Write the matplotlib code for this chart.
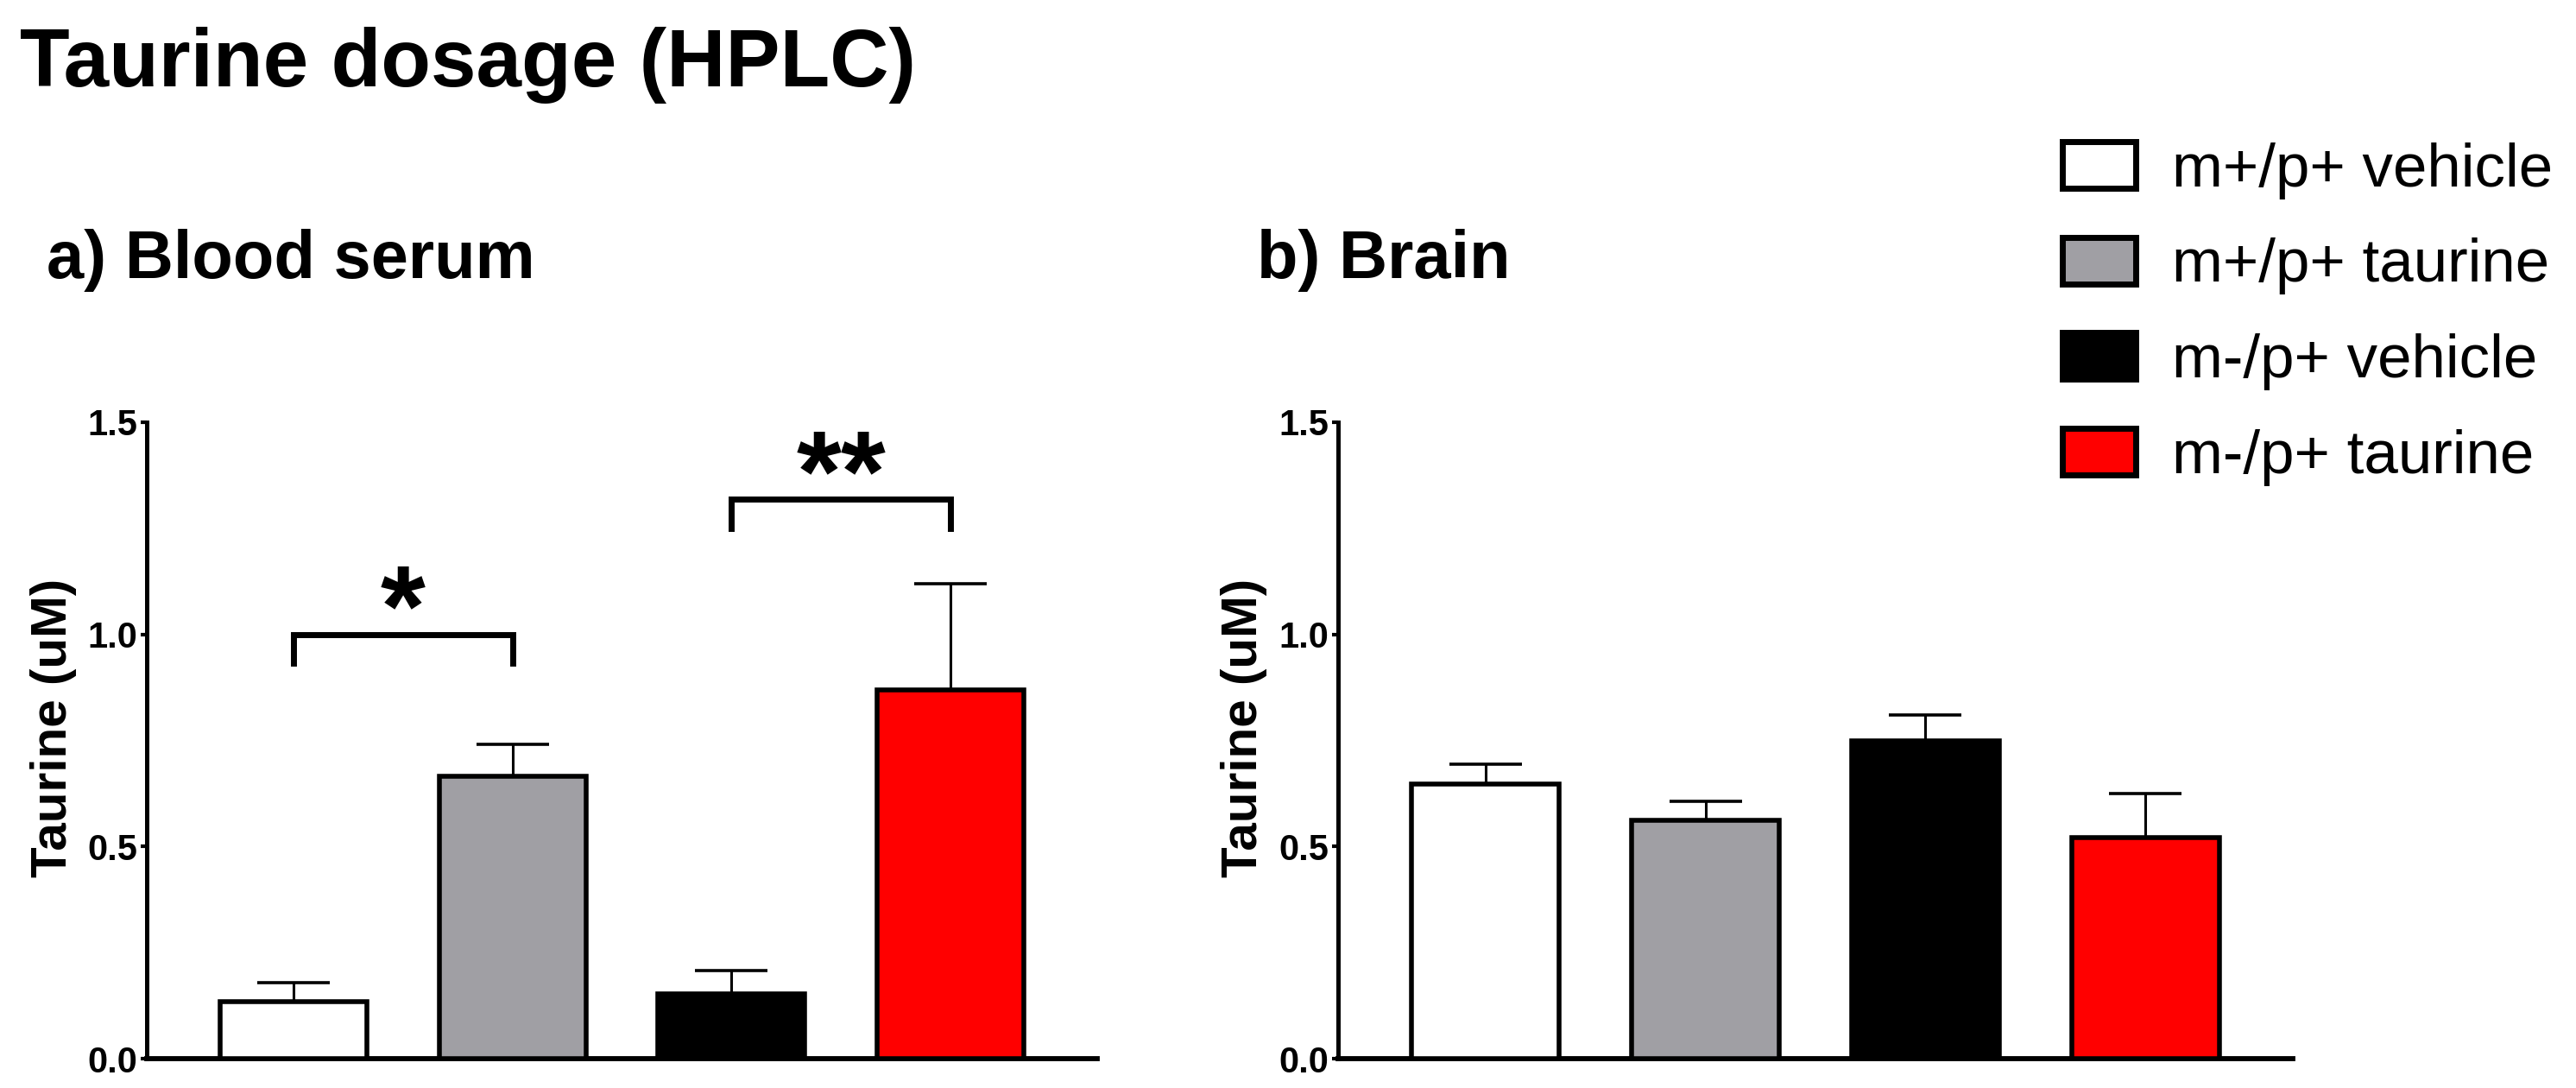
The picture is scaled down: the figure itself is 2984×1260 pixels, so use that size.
import numpy as np
import matplotlib
matplotlib.use('Agg')
import matplotlib.pyplot as plt
from matplotlib.patches import Patch

plt.rcParams['font.family'] = ['Liberation Sans', 'DejaVu Sans']

# data
groups = ['m+/p+ vehicle', 'm+/p+ taurine', 'm-/p+ vehicle', 'm-/p+ taurine']
bar_colors = ['#ffffff', '#a09fa4', '#000000', '#ff0000']
serum_mean = [0.135, 0.665, 0.152, 0.869]
serum_sem = [0.045, 0.075, 0.056, 0.25]
brain_mean = [0.647, 0.561, 0.750, 0.521]
brain_sem = [0.047, 0.045, 0.061, 0.103]
yticks = [0.0, 0.5, 1.0, 1.5]
# significance brackets: (bar i, bar j, height, label)
serum_sig = [(0, 1, 1.0, '*'), (2, 3, 1.318, '**')]

W, H = 2984, 1260
fig = plt.figure(figsize=(W / 100, H / 100), dpi=100)

ax_bottom = (H - 1226) / H
ax_height = 737 / H
ax1 = fig.add_axes([170 / W, ax_bottom, 1101 / W, ax_height])
ax2 = fig.add_axes([1550 / W, ax_bottom, 1106 / W, ax_height])


def draw_panel(ax, means, sems):
    x = np.arange(len(means))
    ax.bar(x, means, width=0.67, color=bar_colors, edgecolor='black', linewidth=4,
           yerr=[np.zeros(len(sems)), sems],
           error_kw=dict(ecolor='black', elinewidth=2.2, capsize=30, capthick=2.6),
           zorder=3)
    ax.set_xlim(-0.67, 3.67)
    ax.set_ylim(0, 1.5)
    ax.set_yticks(yticks)
    ax.set_yticklabels(['%.1f' % t for t in yticks], fontsize=30, fontweight='bold')
    ax.set_xticks([])
    for s in ['top', 'right']:
        ax.spines[s].set_visible(False)
    ax.spines['left'].set_linewidth(3.6)
    ax.spines['bottom'].set_linewidth(4.2)
    ax.tick_params(axis='y', direction='out', length=5, width=3, pad=3)
    ax.set_ylabel('Taurine (uM)', fontsize=42, fontweight='bold')
    ax.yaxis.set_label_coords(-0.074, 0.52)


draw_panel(ax1, serum_mean, serum_sem)
draw_panel(ax2, brain_mean, brain_sem)

# significance brackets
for i, j, h, lab in serum_sig:
    ax1.plot([i, i, j, j], [h - 0.068, h, h, h - 0.068], color='black',
             linewidth=5, solid_joinstyle='miter', zorder=4)
    ax1.text((i + j) / 2, h + 0.045, lab, ha='center', va='center',
             fontsize=96, fontweight='bold')

# titles
fig.text(23 / W, 1 - 100 / H, 'Taurine dosage (HPLC)', fontsize=68,
         fontweight='bold', ha='left', va='baseline')
fig.text(54 / W, 1 - 322 / H, 'a) Blood serum', fontsize=56,
         fontweight='bold', ha='left', va='baseline')
fig.text(1456 / W, 1 - 322 / H, 'b) Brain', fontsize=56,
         fontweight='bold', ha='left', va='baseline')

handles = [Patch(facecolor=c, edgecolor='black', linewidth=5) for c in bar_colors]
fig.legend(handles, groups, loc='upper left', bbox_to_anchor=(2389 / W, 1 - 164 / H),
           frameon=False, fontsize=51, borderpad=0, borderaxespad=0,
           handlelength=1.2, handleheight=0.8, handletextpad=0.6, labelspacing=0.62)

fig.savefig('out.png', dpi=100)
